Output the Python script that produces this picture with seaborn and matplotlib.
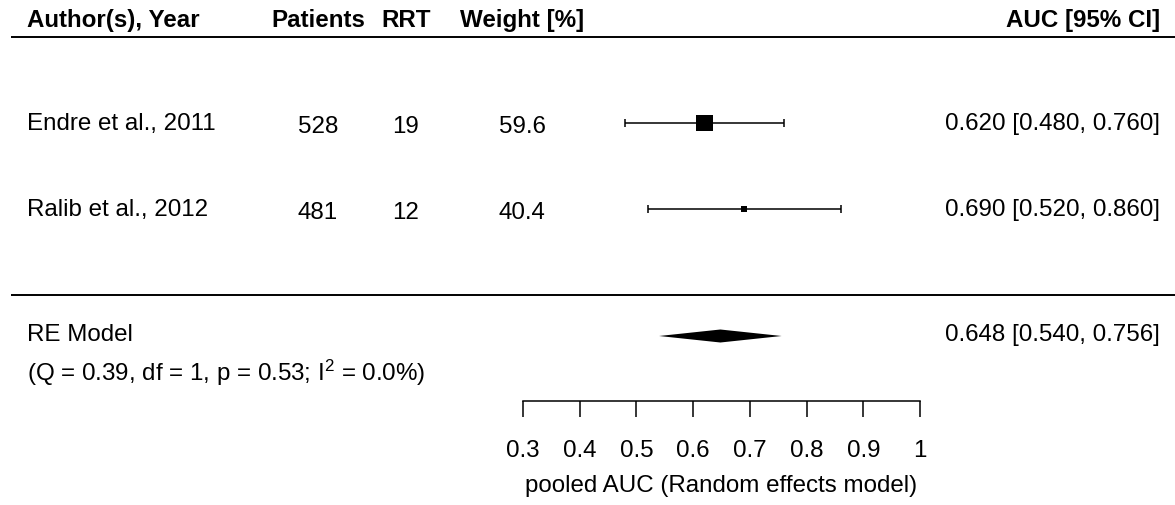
import numpy as np
import matplotlib
matplotlib.use("Agg")
import matplotlib.pyplot as plt
import seaborn as sns

# ---------------- DATA ----------------
authors = ["Endre et al., 2011", "Ralib et al., 2012"]
patients = [528, 481]
rrt = [19, 12]
weights = [59.6, 40.4]
auc = np.array([0.620, 0.690])
ci_lo = np.array([0.480, 0.520])
ci_hi = np.array([0.760, 0.860])

pooled_auc = 0.648
pooled_lo = 0.540
pooled_hi = 0.756
q_stat, q_df, q_p, i2 = 0.39, 1, 0.53, 0.0

tick_values = [0.3, 0.4, 0.5, 0.6, 0.7, 0.8, 0.9, 1.0]
tick_labels = ["0.3", "0.4", "0.5", "0.6", "0.7", "0.8", "0.9", "1"]
headers = ["Author(s), Year", "Patients", "RRT", "Weight [%]", "AUC [95% CI]"]
x_label = "pooled AUC (Random effects model)"

# ---------------- LAYOUT ----------------
W, H, DPI = 1175, 506, 100
PX_PER_UNIT = (920 - 523) / 0.7   # pixels per AUC unit
ROW_PX = 86                       # pixels per row


def ax_x(px):
    return 0.3 + (px - 523) / PX_PER_UNIT


def ax_y(py):
    return (296 - py) / ROW_PX


rows = np.array([2.0, 1.0])
y_header = ax_y(20.5)
y_top_line = 3.0
y_sep = 0.0
y_model = ax_y(337)
y_q = ax_y(373)
y_axis = ax_y(402)
y_xlabel = ax_y(486)

col_author = ax_x(27)
col_patients = ax_x(318)
col_rrt = ax_x(406)
col_weight = ax_x(522)
col_right = ax_x(1160)

FS = 17.4

sns.set_theme(style="white")
plt.rcParams["font.family"] = ["Liberation Sans", "DejaVu Sans"]
plt.rcParams["mathtext.fontset"] = "custom"
plt.rcParams["mathtext.rm"] = "Liberation Sans"
plt.rcParams["text.color"] = "black"
plt.rcParams["xtick.color"] = "black"
plt.rcParams["xtick.labelcolor"] = "black"

fig = plt.figure(figsize=(W / DPI, H / DPI), dpi=DPI)
ax = fig.add_axes([0, 0, 1, 1])
ax.set_xlim(ax_x(0), ax_x(W))
ax.set_ylim(ax_y(H), ax_y(0))

# ---------------- RULES ----------------
ax.hlines([y_top_line, y_sep], ax_x(11), ax_x(W), color="black", lw=1.4)

# ---------------- STUDIES ----------------
ax.errorbar(auc, rows, xerr=[auc - ci_lo, ci_hi - auc], fmt="none",
            ecolor="black", elinewidth=1.1, capsize=3.1, capthick=1.1)
sns.scatterplot(x=auc, y=rows, size=weights, sizes=(15.7, 144),
                marker="s", color="black", linewidth=0, legend=False,
                ax=ax, zorder=3)

# ---------------- POOLED DIAMOND ----------------
h = 6.5 / ROW_PX
ax.fill([pooled_lo, pooled_auc, pooled_hi, pooled_auc],
        [y_model, y_model + h, y_model, y_model - h],
        color="black", lw=0)

# ---------------- TEXT ----------------
hdr_x = [col_author, col_patients, col_rrt, col_weight, col_right]
hdr_ha = ["left", "center", "center", "center", "right"]
for txt, x, ha in zip(headers, hdr_x, hdr_ha):
    ax.text(x, y_header, txt, ha=ha, va="center", fontsize=FS,
            fontweight="bold")

for i, r in enumerate(rows):
    ax.text(col_author, r, authors[i], ha="left", va="center", fontsize=FS)
    ax.text(col_patients, r - 0.03, str(patients[i]), ha="center", va="center", fontsize=FS)
    ax.text(col_rrt, r - 0.03, str(rrt[i]), ha="center", va="center", fontsize=FS)
    ax.text(col_weight, r - 0.03, f"{weights[i]:.1f}", ha="center", va="center", fontsize=FS)
    ax.text(col_right, r, f"{auc[i]:.3f} [{ci_lo[i]:.3f}, {ci_hi[i]:.3f}]",
            ha="right", va="center", fontsize=FS)

ax.text(col_author, y_model + 0.02, "RE Model", ha="left", va="center", fontsize=FS)
ax.text(col_right, y_model + 0.02,
        f"{pooled_auc:.3f} [{pooled_lo:.3f}, {pooled_hi:.3f}]",
        ha="right", va="center", fontsize=FS)
ax.text(col_author, y_q,
        f"(Q = {q_stat:.2f}, df = {q_df}, p = {q_p:.2f}; "
        + r"$\mathregular{I^2}$" + f" = {i2:.1f}%)",
        ha="left", va="center", fontsize=FS)

# ---------------- AXIS ----------------
for side in ["top", "left", "right"]:
    ax.spines[side].set_visible(False)
ax.spines["bottom"].set_position(("data", y_axis))
ax.spines["bottom"].set_bounds(tick_values[0], tick_values[-1])
ax.spines["bottom"].set_color("black")
ax.spines["bottom"].set_linewidth(1.1)
ax.set_xticks(tick_values, tick_labels)
ax.set_yticks([])
ax.tick_params(axis="x", bottom=True, direction="out", length=11.5,
               width=1.1, color="black", labelcolor="black", pad=16,
               labelsize=FS)
ax.text((tick_values[0] + tick_values[-1]) / 2, y_xlabel, x_label,
        ha="center", va="center", fontsize=FS)

fig.savefig("out.png", dpi=DPI)
plt.close(fig)
